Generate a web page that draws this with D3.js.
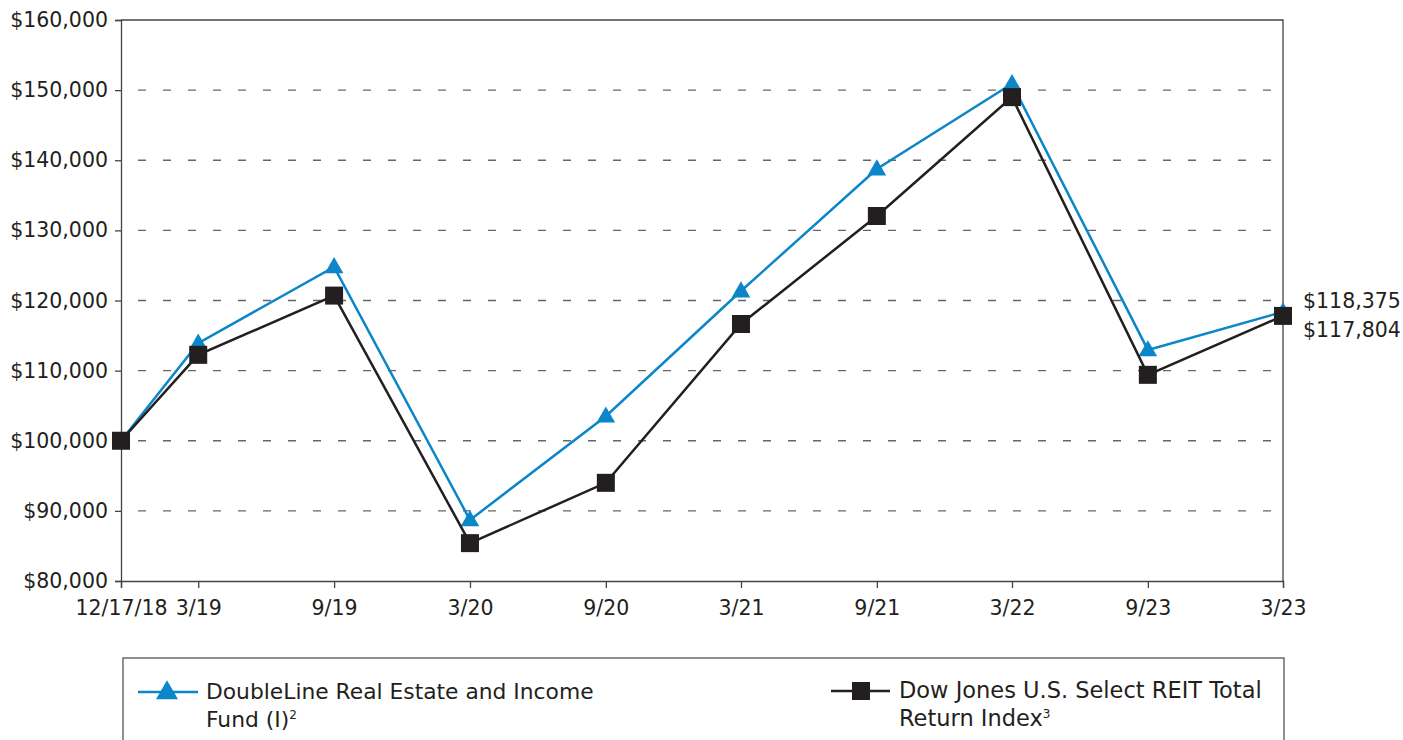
<!DOCTYPE html>
<html>
<head>
<meta charset="utf-8">
<script src="https://cdn.jsdelivr.net/npm/d3@7/dist/d3.min.js"></script>
<style>
  body { margin: 0; background: #fff; }
  svg { display: block; font-family: "DejaVu Sans", sans-serif; }
</style>
</head>
<body>
<svg id="chart" width="1403" height="740"></svg>
<script>
// Period end dates and their labels (labels copied as printed)
const dates = ["2018-12-17", "2019-03-31", "2019-09-30", "2020-03-31", "2020-09-30",
               "2021-03-31", "2021-09-30", "2022-03-31", "2022-09-30", "2023-03-31"];
const tickLabels = ["12/17/18", "3/19", "9/19", "3/20", "9/20", "3/21", "9/21", "3/22", "9/23", "3/23"];

// Growth of $100,000
const fundValues = [100000, 113900, 124800, 88700, 103500, 121350, 138750, 150900, 112950, 118375];
const indexValues = [100000, 112250, 120700, 85400, 94000, 116650, 132050, 149000, 109400, 117804];

const yTicks = [80000, 90000, 100000, 110000, 120000, 130000, 140000, 150000, 160000];
const endLabels = ["$118,375", "$117,804"];

const BLUE = "#0a86c9", DARK = "#231f20", GRID = "#666";

const svg = d3.select("#chart");
const parse = d3.timeParse("%Y-%m-%d");
const xDates = dates.map(parse);

const margin = { left: 121, right: 120, top: 20, bottom: 159 };
const W = 1403, H = 740;

const x = d3.scaleTime()
    .domain([xDates[0], xDates[xDates.length - 1]])
    .range([margin.left, W - margin.right]);

const y = d3.scaleLinear()
    .domain([80000, 160000])
    .range([H - margin.bottom, margin.top]);

const fmt = d3.format("$,");

// dashed grid
svg.append("g")
  .selectAll("line")
  .data(yTicks.slice(1, -1))
  .join("line")
    .attr("x1", x.range()[0]).attr("x2", x.range()[1])
    .attr("y1", d => y(d)).attr("y2", d => y(d))
    .attr("stroke", GRID).attr("stroke-width", 1.3)
    .attr("stroke-dasharray", "8,17")
    .attr("stroke-dashoffset", -17);

// plot frame (top + right)
svg.append("path")
    .attr("d", `M${x.range()[0]},${y(160000)}H${x.range()[1]}V${y(80000)}`)
    .attr("fill", "none").attr("stroke", "#444").attr("stroke-width", 1.3);

// y axis
const yAxis = svg.append("g")
    .attr("transform", `translate(${x.range()[0]},0)`)
    .call(d3.axisLeft(y).tickValues(yTicks).tickFormat(fmt).tickSize(6).tickPadding(7));

// x axis
const xAxis = svg.append("g")
    .attr("transform", `translate(0,${y(80000)})`)
    .call(d3.axisBottom(x).tickValues(xDates).tickFormat((d, i) => tickLabels[i]).tickSize(7).tickPadding(12));

[yAxis, xAxis].forEach(g => {
  g.select(".domain").attr("stroke", "#444").attr("stroke-width", 1.3);
  g.selectAll(".tick line").attr("stroke", "#444").attr("stroke-width", 1.3);
  g.selectAll(".tick text")
    .attr("fill", DARK)
    .style("font-family", "'DejaVu Sans', sans-serif")
    .style("font-size", "20.5px");
});

const line = d3.line().x((d, i) => x(xDates[i])).y(d => y(d));

// fund series
svg.append("path")
    .datum(fundValues)
    .attr("d", line)
    .attr("fill", "none").attr("stroke", BLUE).attr("stroke-width", 2.5);

const tri = d3.symbol().type(d3.symbolTriangle).size(150);
svg.append("g")
  .selectAll("path")
  .data(fundValues)
  .join("path")
    .attr("d", tri)
    .attr("transform", (d, i) => `translate(${x(xDates[i])},${y(d) + 1})`)
    .attr("fill", BLUE);

// index series
svg.append("path")
    .datum(indexValues)
    .attr("d", line)
    .attr("fill", "none").attr("stroke", DARK).attr("stroke-width", 2.5);

svg.append("g")
  .selectAll("rect")
  .data(indexValues)
  .join("rect")
    .attr("x", (d, i) => x(xDates[i]) - 9)
    .attr("y", d => y(d) - 9)
    .attr("width", 18).attr("height", 18)
    .attr("fill", DARK);

// end value labels
svg.append("g")
  .selectAll("text")
  .data(endLabels)
  .join("text")
    .attr("x", x.range()[1] + 20)
    .attr("y", (d, i) => 308 + i * 29)
    .attr("fill", DARK)
    .style("font-size", "20.5px")
    .text(d => d);

// legend
const legend = svg.append("g");
legend.append("rect")
    .attr("x", 123).attr("y", 658)
    .attr("width", 1284 - 123).attr("height", 120)
    .attr("fill", "none").attr("stroke", "#555").attr("stroke-width", 1.3);

// fund entry
legend.append("line")
    .attr("x1", 138).attr("x2", 198).attr("y1", 692).attr("y2", 692)
    .attr("stroke", BLUE).attr("stroke-width", 2.5);
legend.append("path")
    .attr("d", d3.symbol().type(d3.symbolTriangle).size(210))
    .attr("transform", "translate(167,693)")
    .attr("fill", BLUE);
const t1 = legend.append("text").attr("x", 206).attr("y", 699)
    .attr("fill", DARK).style("font-size", "21.8px");
t1.append("tspan").text("DoubleLine Real Estate and Income");
const t1b = legend.append("text").attr("x", 206).attr("y", 727)
    .attr("fill", DARK).style("font-size", "21.8px");
t1b.append("tspan").text("Fund (I)");
t1b.append("tspan").attr("dy", -8).style("font-size", "12px").text("2");

// index entry
legend.append("line")
    .attr("x1", 831).attr("x2", 890).attr("y1", 691).attr("y2", 691)
    .attr("stroke", DARK).attr("stroke-width", 2.5);
legend.append("rect")
    .attr("x", 852).attr("y", 682).attr("width", 18).attr("height", 18)
    .attr("fill", DARK);
legend.append("text").attr("x", 899).attr("y", 698)
    .attr("fill", DARK).style("font-size", "22.5px")
    .text("Dow Jones U.S. Select REIT Total");
const t2b = legend.append("text").attr("x", 899).attr("y", 726)
    .attr("fill", DARK).style("font-size", "22.5px");
t2b.append("tspan").text("Return Index");
t2b.append("tspan").attr("dy", -8).style("font-size", "12px").text("3");
</script>
</body>
</html>
